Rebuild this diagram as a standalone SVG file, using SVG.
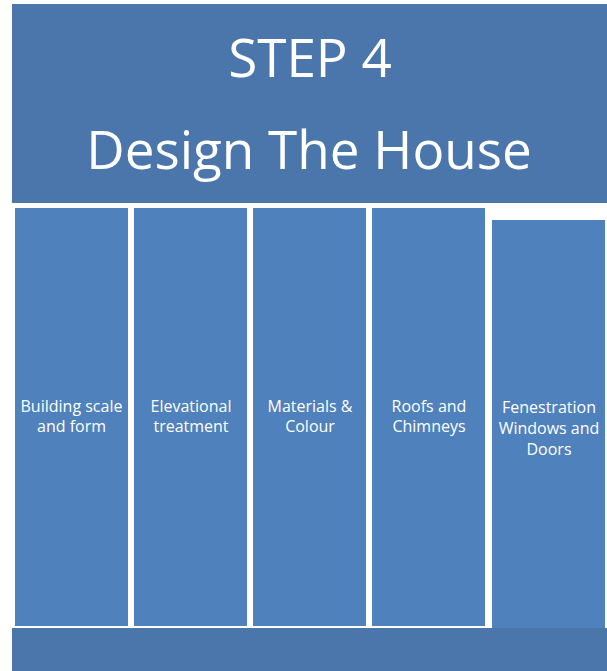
<svg xmlns="http://www.w3.org/2000/svg" width="607" height="671" viewBox="0 0 607 671">
<style>
.bar{fill:#4a76ab}
.col{fill:#4f81bd;stroke:#ffffff;stroke-width:3}
.t{fill:#ffffff;font-family:"Open Sans","Liberation Sans",sans-serif;text-anchor:middle}
.big{font-size:53px}
.sm{font-size:16px}
</style>
<rect width="607" height="671" fill="#ffffff"/>
<g id="header">
<rect class="bar" x="12" y="4" width="595" height="199"/>
<text class="t big" x="310" y="77">STEP 4</text>
<text class="t big" x="309" y="169">Design The House</text>
</g>
<g id="col1">
<rect class="col" x="13.5" y="206.5" width="116" height="421"/>
<text class="t sm" x="71.5" y="412">Building scale</text>
<text class="t sm" x="71.5" y="432">and form</text>
</g>
<g id="col2">
<rect class="col" x="132.5" y="206.5" width="116" height="421"/>
<text class="t sm" x="191" y="412">Elevational</text>
<text class="t sm" x="191" y="432">treatment</text>
</g>
<g id="col3">
<rect class="col" x="251.5" y="206.5" width="116" height="421"/>
<text class="t sm" x="310" y="412">Materials &amp;</text>
<text class="t sm" x="310" y="432">Colour</text>
</g>
<g id="col4">
<rect class="col" x="370.5" y="206.5" width="116" height="421"/>
<text class="t sm" x="429" y="412">Roofs and</text>
<text class="t sm" x="429" y="432">Chimneys</text>
</g>
<g id="col5">
<rect class="col" x="490.5" y="218.5" width="116" height="421"/>
<text class="t sm" x="549" y="413">Fenestration</text>
<text class="t sm" x="549" y="434">Windows and</text>
<text class="t sm" x="549" y="455">Doors</text>
</g>
<g id="footer">
<rect class="bar" x="12" y="628" width="595" height="43"/>
</g>
<g id="connectors"></g>
</svg>
